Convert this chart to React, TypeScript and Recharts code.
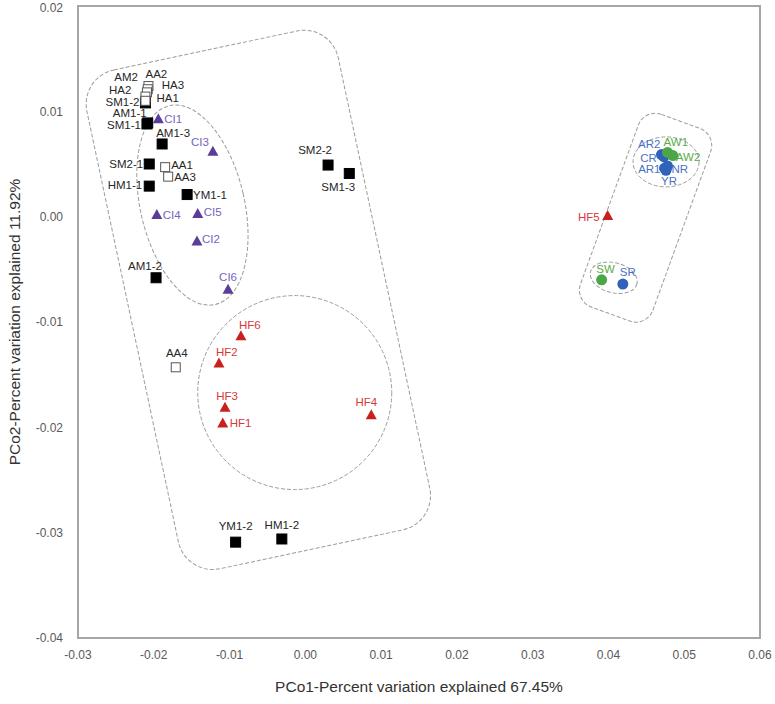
import React from 'react';
import {
  ScatterChart,
  Scatter,
  XAxis,
  YAxis,
  ReferenceArea,
  ReferenceDot,
} from 'recharts';

// sample coordinates (PCo1, PCo2)
const blackSquares = [
  { name: 'SM1-2', x: -0.0211, y: 0.0108 },
  { name: 'AM1-1', x: -0.0208, y: 0.0089 },
  { name: 'SM1-1', x: -0.0209, y: 0.0088 },
  { name: 'AM1-3', x: -0.0189, y: 0.0069 },
  { name: 'SM2-1', x: -0.0206, y: 0.005 },
  { name: 'HM1-1', x: -0.0206, y: 0.0029 },
  { name: 'YM1-1', x: -0.0156, y: 0.0021 },
  { name: 'AM1-2', x: -0.0197, y: -0.0058 },
  { name: 'SM2-2', x: 0.003, y: 0.0049 },
  { name: 'SM1-3', x: 0.0058, y: 0.0041 },
  { name: 'YM1-2', x: -0.0092, y: -0.0309 },
  { name: 'HM1-2', x: -0.0031, y: -0.0306 },
];

const openSquares = [
  { name: 'AA2', x: -0.0207, y: 0.0124 },
  { name: 'HA3', x: -0.0208, y: 0.0121 },
  { name: 'AM2', x: -0.0209, y: 0.0118 },
  { name: 'HA2', x: -0.0211, y: 0.0114 },
  { name: 'HA1', x: -0.0211, y: 0.011 },
  { name: 'AA1', x: -0.0185, y: 0.0047 },
  { name: 'AA3', x: -0.0181, y: 0.0038 },
  { name: 'AA4', x: -0.0171, y: -0.0143 },
];

const ciTriangles = [
  { name: 'CI1', x: -0.0194, y: 0.0093 },
  { name: 'CI3', x: -0.0122, y: 0.0062 },
  { name: 'CI4', x: -0.0196, y: 0.0002 },
  { name: 'CI5', x: -0.0142, y: 0.0003 },
  { name: 'CI2', x: -0.0143, y: -0.0023 },
  { name: 'CI6', x: -0.0102, y: -0.0069 },
];

const hfTriangles = [
  { name: 'HF6', x: -0.0085, y: -0.0113 },
  { name: 'HF2', x: -0.0114, y: -0.0139 },
  { name: 'HF3', x: -0.0106, y: -0.0181 },
  { name: 'HF1', x: -0.0109, y: -0.0196 },
  { name: 'HF4', x: 0.0087, y: -0.0188 },
  { name: 'HF5', x: 0.0399, y: 0.0001 },
];

const blueCircles = [
  { name: 'AR2', x: 0.047, y: 0.0059 },
  { name: 'CR', x: 0.0473, y: 0.0057 },
  { name: 'AR1', x: 0.0474, y: 0.0046 },
  { name: 'NR', x: 0.0478, y: 0.0048 },
  { name: 'YR', x: 0.0476, y: 0.0044 },
  { name: 'SR', x: 0.0419, y: -0.0064 },
];

const greenCircles = [
  { name: 'AW1', x: 0.0478, y: 0.0061 },
  { name: 'AW2', x: 0.0485, y: 0.0058 },
  { name: 'SW', x: 0.0391, y: -0.006 },
];

const xTicks = [-0.03, -0.02, -0.01, 0, 0.01, 0.02, 0.03, 0.04, 0.05, 0.06];
const yTicks = [-0.04, -0.03, -0.02, -0.01, 0, 0.01, 0.02];

// label placement: [anchor, dx, dy]
const labelPos: Record<string, [string, number, number]> = {
  'AA2': ['start', -3, -8],
  'HA3': ['start', 14, 0],
  'AM2': ['end', -9, -11],
  'HA2': ['end', -14, -3],
  'SM1-2': ['end', -6, 3],
  'HA1': ['start', 11, 1],
  'AM1-1': ['end', -1, -6],
  'SM1-1': ['end', -6, 5],
  'CI1': ['start', 6, 4],
  'AM1-3': ['middle', 11, -7],
  'CI3': ['end', -4, -5],
  'SM2-1': ['end', -6, 4],
  'AA1': ['start', 6, 2],
  'AA3': ['start', 6, 4],
  'HM1-1': ['end', -7, 3],
  'YM1-1': ['start', 6, 4],
  'CI4': ['start', 6, 4],
  'CI5': ['start', 6, 2],
  'CI2': ['start', 5, 2],
  'AM1-2': ['middle', -11, -8],
  'CI6': ['middle', 0, -8],
  'HF6': ['start', -2, -7],
  'HF2': ['start', -3, -7],
  'HF3': ['middle', 2, -7],
  'HF1': ['start', 7, 4],
  'HF4': ['middle', -5, -9],
  'HF5': ['end', -8, 5],
  'SM2-2': ['middle', -13, -11],
  'SM1-3': ['middle', -11, 18],
  'YM1-2': ['middle', 0, -12],
  'HM1-2': ['middle', 0, -10],
  'AA4': ['middle', 1, -10],
  'AR2': ['end', -1, -7],
  'AW1': ['start', -4, -6],
  'CR': ['end', -7, 5],
  'AW2': ['start', 3, 5],
  'AR1': ['end', -4, 5],
  'NR': ['start', 4, 7],
  'YR': ['middle', 3, 15],
  'SW': ['middle', 4, -7],
  'SR': ['middle', 5, -8],
};

const FONT = '"Liberation Sans", Arial, sans-serif';

const makeShape = (kind: string, fill: string, stroke: string, textColor: string) => (props: any) => {
  const { cx, cy, payload } = props;
  if (cx == null || cy == null) return <g />;
  const [anchor, dx, dy] = labelPos[payload.name] || ['start', 6, 4];
  let mark;
  if (kind === 'square') {
    mark = <rect x={cx - 5} y={cy - 5} width={10} height={10} fill={fill} stroke={stroke} />;
  } else if (kind === 'open') {
    mark = <rect x={cx - 4.5} y={cy - 4.5} width={9} height={9} fill="#fff" stroke={stroke} strokeWidth={1} />;
  } else if (kind === 'triangle') {
    mark = <path d={`M${cx},${cy - 5.5} L${cx + 5.5},${cy + 4.5} L${cx - 5.5},${cy + 4.5} Z`} fill={fill} />;
  } else {
    mark = <circle cx={cx} cy={cy} r={5.5} fill={fill} />;
  }
  return (
    <g>
      {mark}
      <text x={cx + dx} y={cy + dy} textAnchor={anchor as any} fontSize={11.5} fill={textColor} fontFamily={FONT}>
        {payload.name}
      </text>
    </g>
  );
};

const dashed = { fill: 'none', stroke: '#9c9c9c', strokeWidth: 1, strokeDasharray: '4 2' };

const roundRect = (w: number, h: number, r: number, rot: number) => (props: any) => {
  const { cx, cy } = props;
  return (
    <rect x={cx - w / 2} y={cy - h / 2} width={w} height={h} rx={r} ry={r}
      transform={`rotate(${rot} ${cx} ${cy})`} {...dashed} />
  );
};

const ellipse = (rx: number, ry: number, rot: number) => (props: any) => {
  const { cx, cy } = props;
  return <ellipse cx={cx} cy={cy} rx={rx} ry={ry} transform={`rotate(${rot} ${cx} ${cy})`} {...dashed} />;
};

const fmt = (v: number) => v.toFixed(2);

const App = () => {
  return (
    <div style={{ position: 'absolute', left: 0, top: 0, fontFamily: FONT }}>
      <ScatterChart width={775} height={704} margin={{ top: 6, right: 15, bottom: 12, left: 0 }}>
        <XAxis
          type="number"
          dataKey="x"
          domain={[-0.03, 0.06]}
          ticks={xTicks}
          tickFormatter={fmt}
          tickLine={false}
          tickMargin={6}
          height={54}
          axisLine={{ stroke: '#a6a6a6', strokeWidth: 2 }}
          tick={{ fontSize: 12, fill: '#595959' }}
          label={{ value: 'PCo1-Percent variation explained 67.45%', position: 'insideBottom', offset: 0, fontSize: 15.5, fill: '#333' }}
        />
        <YAxis
          type="number"
          dataKey="y"
          domain={[-0.04, 0.02]}
          ticks={yTicks}
          tickFormatter={fmt}
          tickLine={false}
          tickMargin={9}
          width={78}
          axisLine={{ stroke: '#a6a6a6', strokeWidth: 2 }}
          tick={{ fontSize: 12, fill: '#595959' }}
          label={{
            content: (p: any) => {
              const vb = p.viewBox;
              const y = vb.y + vb.height / 2;
              return (
                <text x={14} y={y} transform={`rotate(-90 14 ${y})`} textAnchor="middle"
                  dominantBaseline="central" fontSize={15.5} fill="#333" fontFamily={FONT}>
                  PCo2-Percent variation explained 11.92%
                </text>
              );
            },
          }}
        />
        <ReferenceArea x1={-0.03} x2={0.06} y1={-0.04} y2={0.02} fill="none" stroke="#a6a6a6" strokeWidth={2} />
        <ReferenceDot x={-0.0062} y={-0.0079} shape={roundRect(257, 510, 35, -12)} />
        <ReferenceDot x={-0.0149} y={0.0011} shape={ellipse(52, 102, -13)} />
        <ReferenceDot x={-0.0014} y={-0.0167} shape={ellipse(97, 97, 0)} />
        <ReferenceDot x={0.0449} y={-0.0001} shape={roundRect(77, 205, 18, 20)} />
        <ReferenceDot x={0.0476} y={0.0052} shape={ellipse(33, 25, 0)} />
        <ReferenceDot x={0.0407} y={-0.0058} shape={ellipse(24, 15, 15)} />
        <Scatter data={blackSquares} isAnimationActive={false} shape={makeShape('square', '#000', '#000', '#262626')} />
        <Scatter data={openSquares} isAnimationActive={false} shape={makeShape('open', '#fff', '#555', '#262626')} />
        <Scatter data={ciTriangles} isAnimationActive={false} shape={makeShape('triangle', '#5a3d9a', '#5a3d9a', '#7463bf')} />
        <Scatter data={hfTriangles} isAnimationActive={false} shape={makeShape('triangle', '#c8201e', '#c8201e', '#d43a3a')} />
        <Scatter data={blueCircles} isAnimationActive={false} shape={makeShape('circle', '#2f62b8', '#2f62b8', '#4a72c4')} />
        <Scatter data={greenCircles} isAnimationActive={false} shape={makeShape('circle', '#4ca646', '#4ca646', '#5aaa48')} />
      </ScatterChart>
    </div>
  );
};

export default App;
